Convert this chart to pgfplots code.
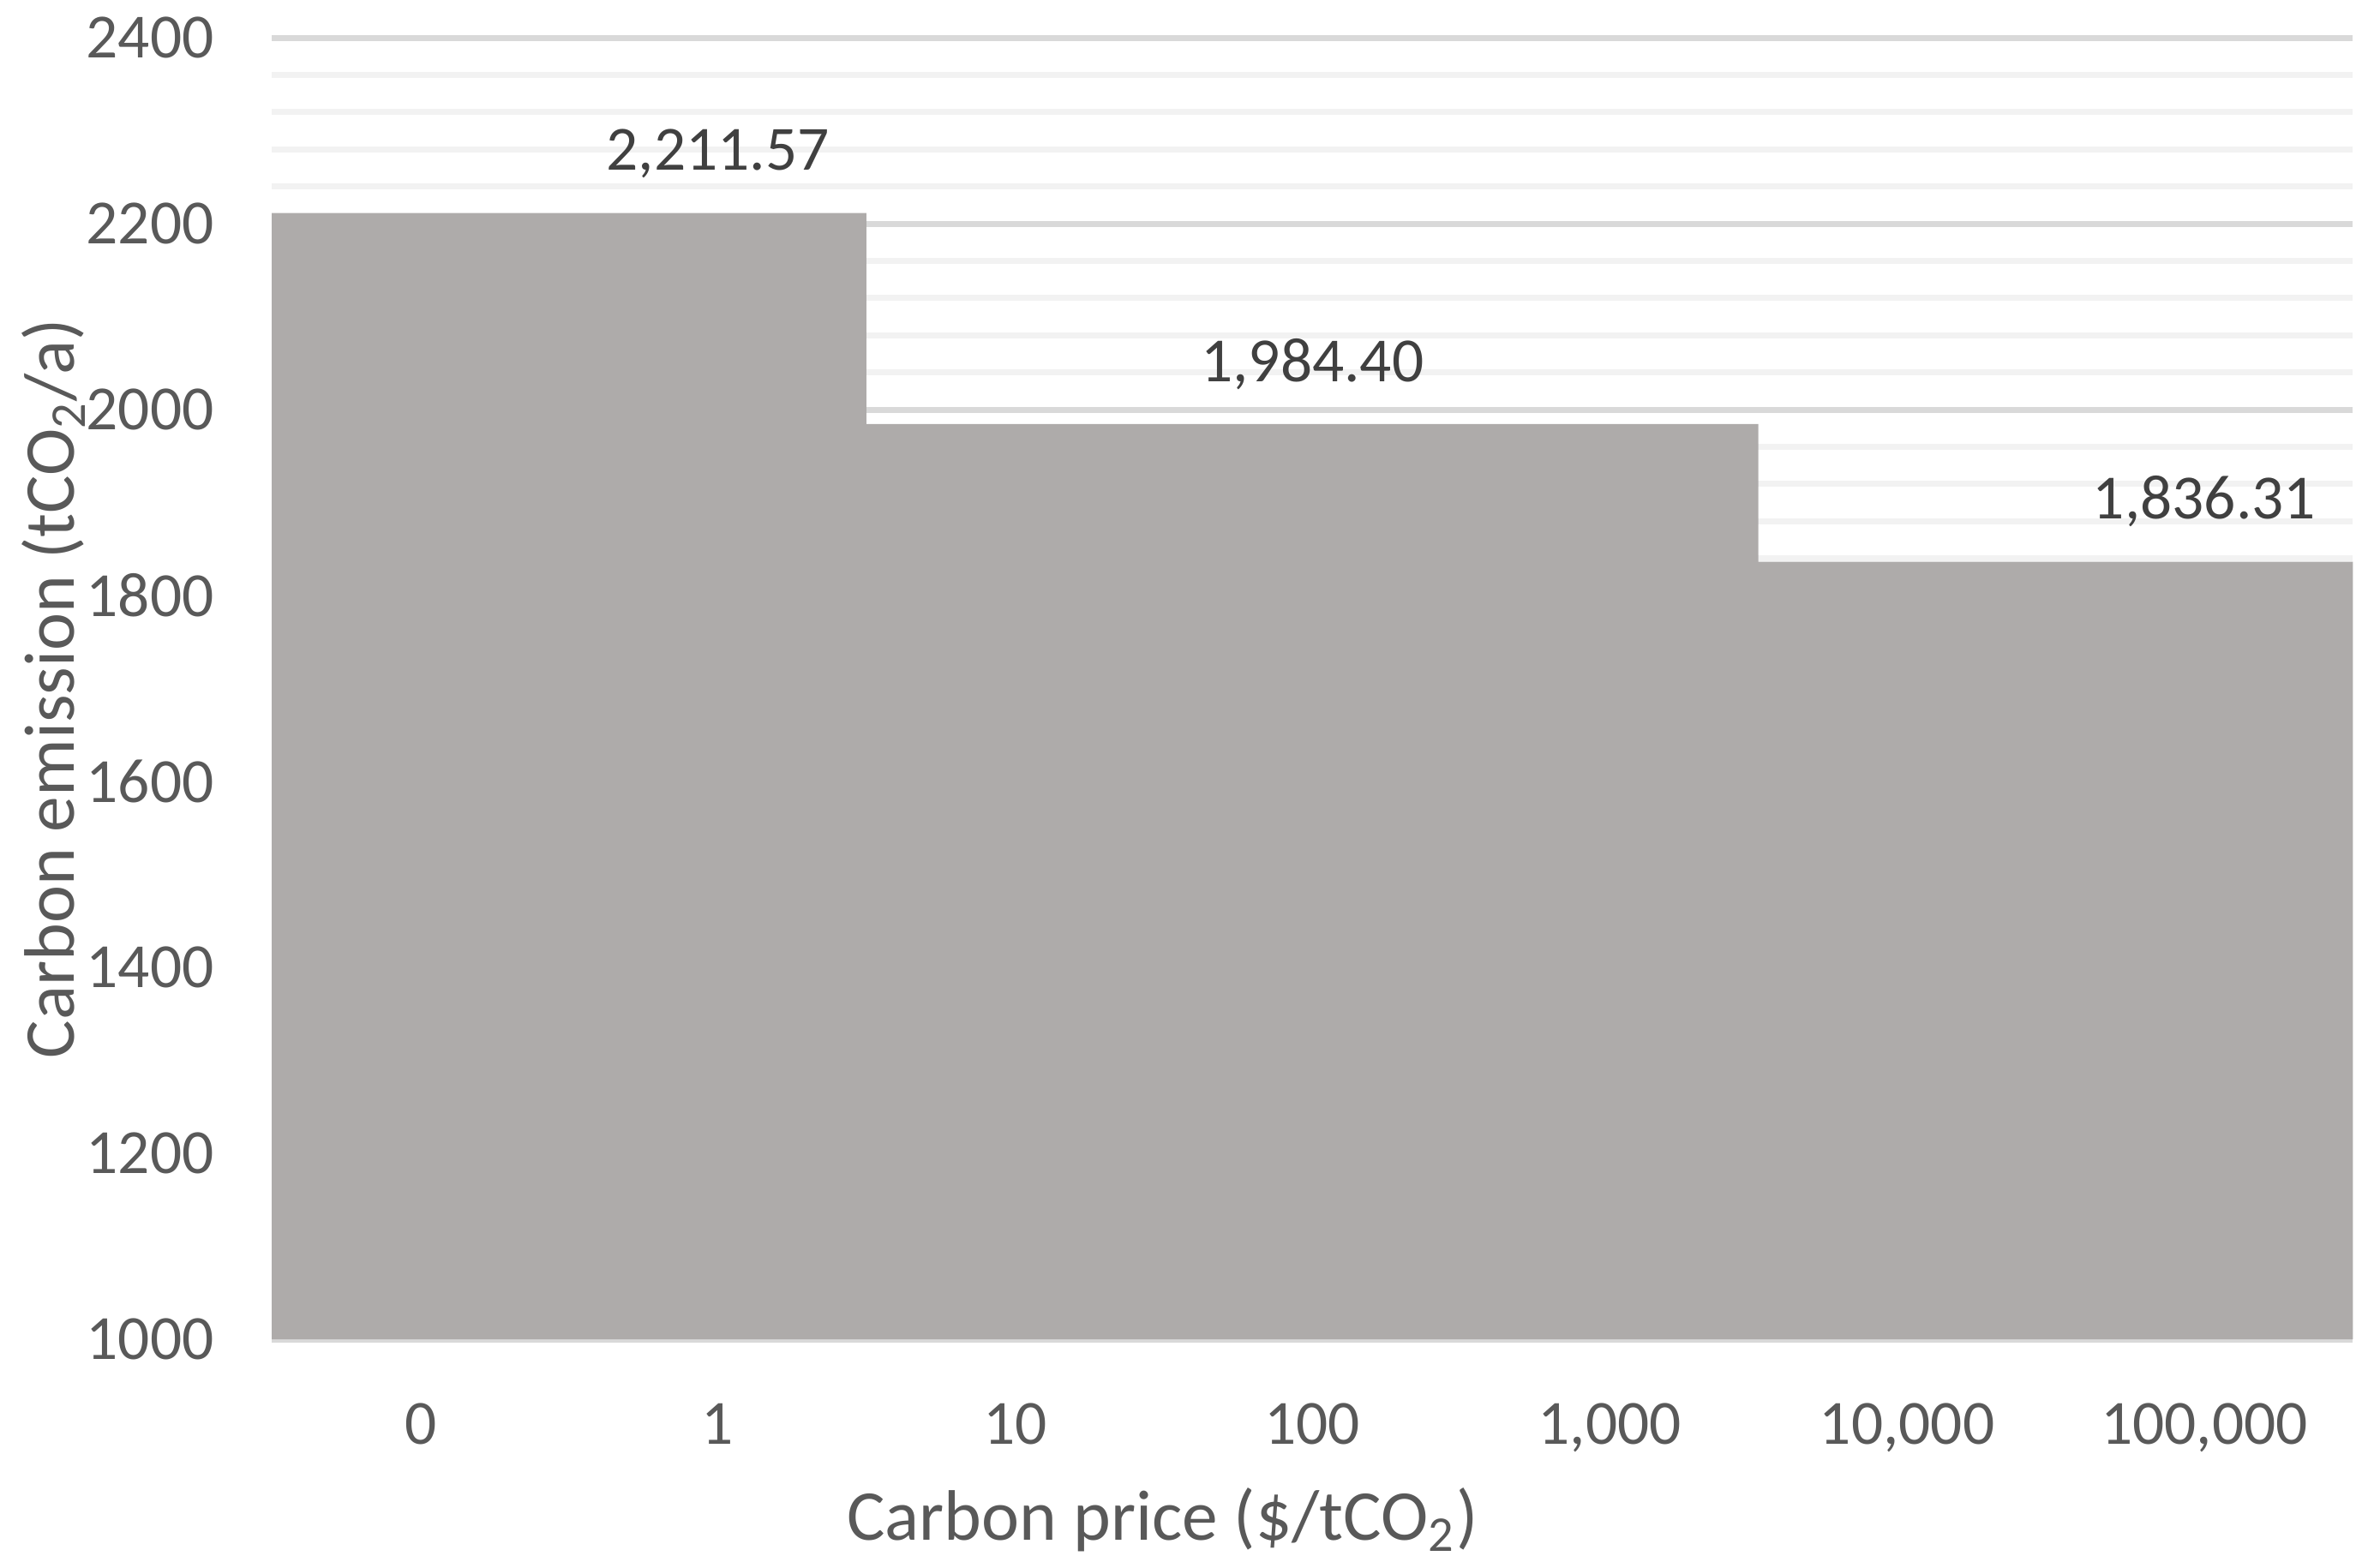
\documentclass[border=0pt]{standalone}
\usepackage{fontspec}
\setmainfont{Carlito}
\usepackage{pgfplots}
\pgfplotsset{compat=1.18}

\definecolor{barfill}{HTML}{AEABAA}
\definecolor{gridmaj}{HTML}{D9D9D9}
\definecolor{gridmin}{HTML}{F2F2F2}
\definecolor{txt}{HTML}{595959}
\definecolor{lbl}{HTML}{404040}

\begin{document}
\begin{tikzpicture}
% frame the page like the original figure
\path[use as bounding box] (-54pt,-45.3pt) rectangle (416.4pt,266.1pt);
\begin{axis}[
    at={(0,0)}, anchor=south west,
    scale only axis,
    width=413.4pt,
    height=258.6pt,
    xmin=-0.5, xmax=6.5,
    ymin=1000, ymax=2400,
    ybar, bar width=1,
    ytick={1000,1200,...,2400},
    minor y tick num=4,
    ymajorgrids, yminorgrids,
    major grid style={color=gridmaj, line width=1.2pt},
    minor grid style={color=gridmin, line width=1.2pt},
    axis line style={draw=none},
    tick style={draw=none},
    xtick={0,...,6},
    xticklabels={0,1,10,100,{1,000},{10,000},{100,000}},
    ticklabel style={font=\fontsize{12.5}{14}\selectfont, text=txt},
    /pgf/number format/assume math mode=true,
    yticklabel style={/pgf/number format/1000 sep={}, xshift=-8pt},
    xticklabel style={yshift=-5pt},
    xlabel={Carbon price (\$/tCO\textsubscript{2})},
    ylabel={Carbon emission (tCO\textsubscript{2}/a)},
    label style={font=\fontsize{14.2}{16}\selectfont, text=txt},
    xlabel style={at={(axis description cs:0.428,-0.139)}, anchor=center},
    ylabel style={at={(axis description cs:-0.105,0.5)}, anchor=center, rotate=0},
    point meta=explicit symbolic,
    nodes near coords,
    every node near coord/.append style={font=\fontsize{12.5}{14}\selectfont,
        text=lbl, anchor=base, yshift=8.5pt},
]
\addplot[fill=barfill, draw=none] coordinates {
    (0,2211.57) []
    (1,2211.57) [2,211.57]
    (2,1984.40) []
    (3,1984.40) [1,984.40]
    (4,1984.40) []
    (5,1836.31) []
    (6,1836.31) [1,836.31]
};
\end{axis}
\end{tikzpicture}
\end{document}
